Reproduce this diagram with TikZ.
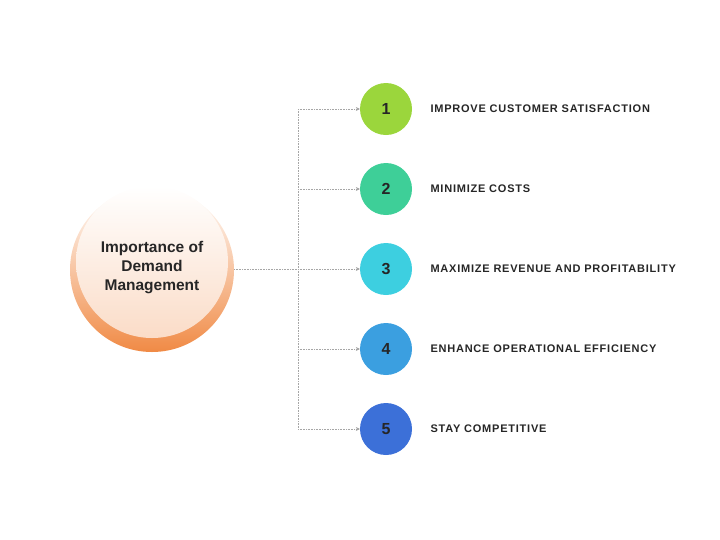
\documentclass[tikz,border=0pt]{standalone}
\usepackage{fontspec}
\setmainfont{Liberation Sans}
\newfontfamily\widefont[LetterSpace=7]{Liberation Sans}
\usetikzlibrary{positioning,arrows.meta,shadings}
\definecolor{cOne}{HTML}{9BD63C}
\definecolor{cTwo}{HTML}{3ECF98}
\definecolor{cThree}{HTML}{3DCFE0}
\definecolor{cFour}{HTML}{3B9FE0}
\definecolor{cFive}{HTML}{3C70D8}
\definecolor{cOrange}{HTML}{F08A45}
\tikzset{
  point/.style={circle, minimum size=52pt, inner sep=0pt, font=\bfseries\fontsize{16}{16}\selectfont, text=black!85},
  pointtext/.style={right, font=\widefont\bfseries\fontsize{11}{12}\selectfont, text=black!85},
  link/.style={draw=gray!70, line width=0.6pt, densely dotted, -{Stealth[length=4pt,width=4pt,fill=black!70]}}
}
\begin{document}
\begin{tikzpicture}[x=1pt,y=-1pt]
    \useasboundingbox (0,0) rectangle (720,539);

    % Central topic
    \shade[top color=white, bottom color=cOrange] (152,270) circle (82);
    \shade[top color=white, bottom color=cOrange!30] (152,262) circle (76);
    \node[font=\bfseries\fontsize{15.5}{19}\selectfont, align=center, text=black!85] (topic) at (152,268)
        {Importance of\\Demand\\Management};
    \coordinate (edge) at (234,269);

    % Trunk
    \coordinate (top) at (298,109);
    \coordinate (bot) at (298,429);
    \coordinate (mid) at (298,269);
    \draw[draw=gray!70, line width=0.6pt, densely dotted] (top) -- (bot);
    \draw[draw=gray!70, line width=0.6pt, densely dotted] (edge) -- (mid);

    % Points
    \foreach \n/\y/\col/\txt in {1/109/cOne/IMPROVE CUSTOMER SATISFACTION,
                                 2/189/cTwo/MINIMIZE COSTS,
                                 3/269/cThree/MAXIMIZE REVENUE AND PROFITABILITY,
                                 4/349/cFour/ENHANCE OPERATIONAL EFFICIENCY,
                                 5/429/cFive/STAY COMPETITIVE}{
        \coordinate (b\n) at (298,\y);
        \node[point, fill=\col] (s\n) at (386,\y) {\n};
        \node[pointtext] (t\n) at (427,\y) {\txt};
        \draw[link] (b\n) -- (s\n);
    }
\end{tikzpicture}
\end{document}
